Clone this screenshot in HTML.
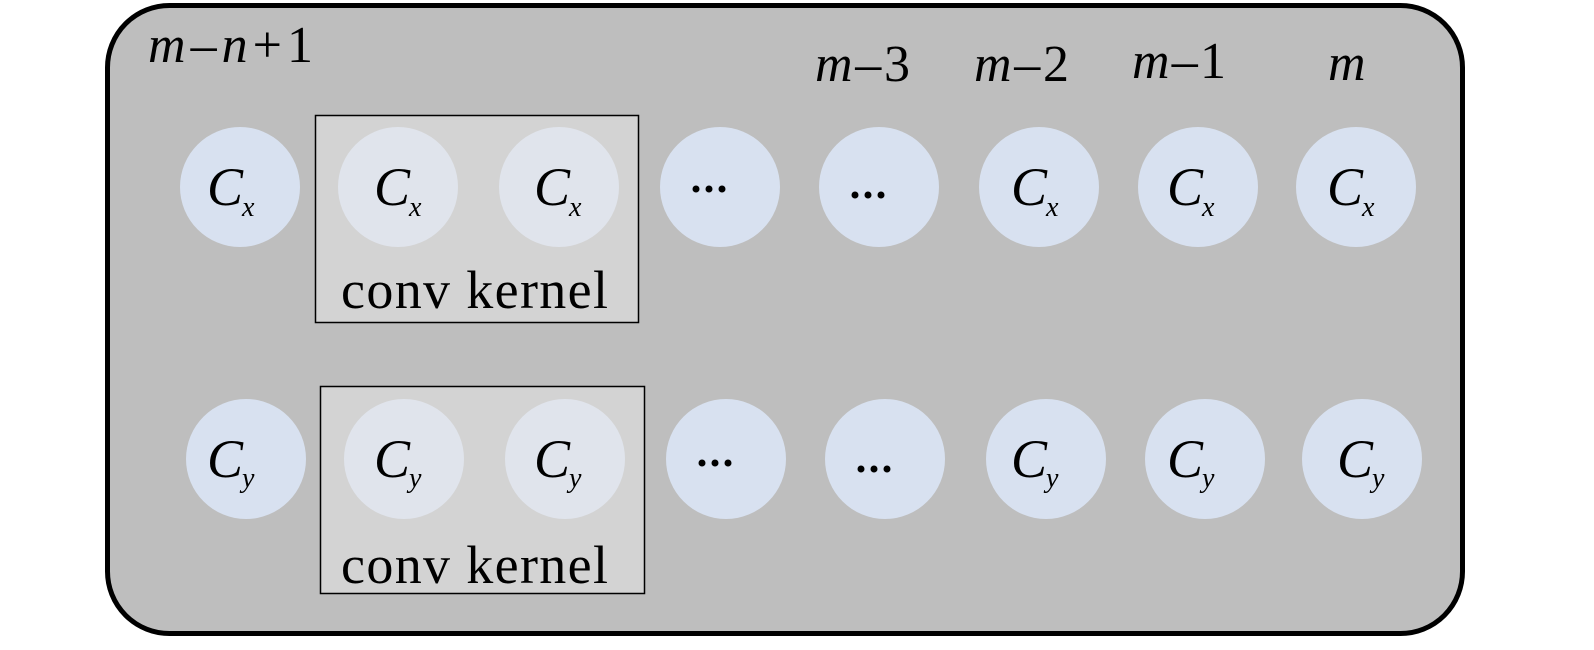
<!DOCTYPE html>
<html><head><meta charset="utf-8"><style>
html,body{margin:0;padding:0;background:#fff;overflow:hidden;width:1594px;height:650px;}
svg{display:block;}
text{font-family:"Liberation Serif",serif;fill:#000;}
.it{font-style:italic;}
</style></head><body>
<svg width="1594" height="650" viewBox="0 0 1594 650" xmlns="http://www.w3.org/2000/svg">
<rect x="107.5" y="5.5" width="1355" height="628" rx="62" fill="#bebebe" stroke="#000" stroke-width="5"/>
<rect x="315.5" y="115.5" width="323" height="207" fill="#d3d3d3" stroke="#000" stroke-width="1.5"/>
<rect x="320.5" y="386.5" width="324" height="207" fill="#d3d3d3" stroke="#000" stroke-width="1.5"/>
<text x="148" y="62" font-size="52" textLength="165"><tspan class="it">m</tspan>–<tspan class="it">n</tspan>+1</text>
<text x="815" y="81" font-size="52" textLength="95"><tspan class="it">m</tspan>–3</text>
<text x="974" y="81" font-size="52" textLength="95"><tspan class="it">m</tspan>–2</text>
<text x="1132" y="78" font-size="52" textLength="94"><tspan class="it">m</tspan>–1</text>
<text x="1328" y="80" font-size="52" class="it">m</text>
<text x="341" y="308" font-size="54" textLength="267">conv kernel</text>
<text x="341" y="583" font-size="54" textLength="267">conv kernel</text>
<circle cx="240" cy="187" r="60" fill="#d8e1f0"/>
<circle cx="398" cy="187" r="60" fill="#e0e4ec"/>
<circle cx="559" cy="187" r="60" fill="#e0e4ec"/>
<circle cx="720" cy="187" r="60" fill="#d8e1f0"/>
<circle cx="879" cy="187" r="60" fill="#d8e1f0"/>
<circle cx="1039" cy="187" r="60" fill="#d8e1f0"/>
<circle cx="1198" cy="187" r="60" fill="#d8e1f0"/>
<circle cx="1356" cy="187" r="60" fill="#d8e1f0"/>
<circle cx="246" cy="459" r="60" fill="#d8e1f0"/>
<circle cx="404" cy="459" r="60" fill="#e0e4ec"/>
<circle cx="565" cy="459" r="60" fill="#e0e4ec"/>
<circle cx="726" cy="459" r="60" fill="#d8e1f0"/>
<circle cx="885" cy="459" r="60" fill="#d8e1f0"/>
<circle cx="1046" cy="459" r="60" fill="#d8e1f0"/>
<circle cx="1205" cy="459" r="60" fill="#d8e1f0"/>
<circle cx="1362" cy="459" r="60" fill="#d8e1f0"/>
<g font-size="54" class="it">
<text x="207" y="205">C</text><text x="242" y="216" font-size="28">x</text>
<text x="374" y="205">C</text><text x="409" y="216" font-size="28">x</text>
<text x="534" y="205">C</text><text x="569" y="216" font-size="28">x</text>
<text x="1011" y="205">C</text><text x="1046" y="216" font-size="28">x</text>
<text x="1167" y="205">C</text><text x="1202" y="216" font-size="28">x</text>
<text x="1327" y="205">C</text><text x="1362" y="216" font-size="28">x</text>
<text x="207" y="477">C</text><text x="242" y="487" font-size="28">y</text>
<text x="374" y="477">C</text><text x="409" y="487" font-size="28">y</text>
<text x="534" y="477">C</text><text x="569" y="487" font-size="28">y</text>
<text x="1011" y="477">C</text><text x="1046" y="487" font-size="28">y</text>
<text x="1167" y="477">C</text><text x="1202" y="487" font-size="28">y</text>
<text x="1337" y="477">C</text><text x="1372" y="487" font-size="28">y</text>
</g>
<g fill="#000">
<circle cx="696" cy="189" r="3.5"/><circle cx="709" cy="189" r="3.5"/><circle cx="722" cy="189" r="3.5"/>
<circle cx="855" cy="195" r="3.5"/><circle cx="868" cy="195" r="3.5"/><circle cx="881" cy="195" r="3.5"/>
<circle cx="702" cy="463" r="3.5"/><circle cx="715" cy="463" r="3.5"/><circle cx="728" cy="463" r="3.5"/>
<circle cx="861" cy="469" r="3.5"/><circle cx="874" cy="469" r="3.5"/><circle cx="887" cy="469" r="3.5"/>
</g>
</svg>
</body></html>
